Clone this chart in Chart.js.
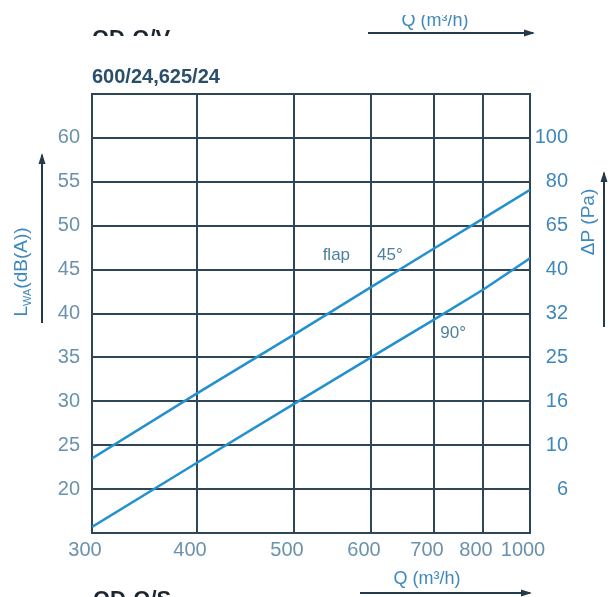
<!DOCTYPE html>
<html><head><meta charset="utf-8">
<script src="https://cdn.jsdelivr.net/npm/chart.js@4.4.0/dist/chart.umd.min.js"></script>
<style>html,body{margin:0;padding:0;background:#fff;}#wrap{width:610px;height:597px;position:relative;}</style>
</head><body><div id="wrap"><canvas id="c" width="610" height="597"></canvas></div>
<script>
// ---- data ----
const flowTicks = [300, 400, 500, 600, 700, 800, 1000];
const levelTicks = [20, 25, 30, 35, 40, 45, 50, 55, 60];
const pressureLabels = ['6', '10', '16', '25', '32', '40', '65', '80', '100'];
const flow = [300, 400, 500, 600, 700, 800, 1000];
const flap45 = [23.5, 30.9, 37.6, 43.0, 47.4, 50.8, 54.1];
const flap90 = [15.7, 23.0, 29.7, 35.0, 39.3, 42.7, 46.3];

// layout of the printed (non-uniform) flow grid, as fractions of the axis length
const gridFrac = [0, 0.2397, 0.4612, 0.6370, 0.7808, 0.8927, 1];

class PrintedFlowScale extends Chart.LinearScale {
  getPixelForValue(v) {
    if (v === undefined || v === null || isNaN(v)) return NaN;
    const t = flowTicks, f = gridFrac;
    let i = 0;
    while (i < t.length - 2 && v > t[i + 1]) i++;
    const frac = f[i] + (v - t[i]) / (t[i + 1] - t[i]) * (f[i + 1] - f[i]);
    return this.getPixelForDecimal(frac);
  }
  getValueForPixel(p) {
    const d = this.getDecimalForPixel(p);
    const t = flowTicks, f = gridFrac;
    let i = 0;
    while (i < f.length - 2 && d > f[i + 1]) i++;
    return t[i] + (d - f[i]) / (f[i + 1] - f[i]) * (t[i + 1] - t[i]);
  }
}
PrintedFlowScale.id = 'printedflow';
PrintedFlowScale.defaults = Chart.LinearScale.defaults;
Chart.register(PrintedFlowScale);

const GRID = '#2e4656';
const LINE = '#2390d0';
const TICKC = '#6a91ad';
const RTICKC = '#3f88bb';
const FONT = 'Liberation Sans, Arial, sans-serif';

function arrow(ctx, x1, y1, x2, y2) {
  ctx.save();
  ctx.strokeStyle = '#243a4a';
  ctx.fillStyle = '#243a4a';
  ctx.lineWidth = 2;
  ctx.beginPath(); ctx.moveTo(x1, y1); ctx.lineTo(x2, y2); ctx.stroke();
  const a = Math.atan2(y2 - y1, x2 - x1), L = 9, W = 3.5;
  ctx.beginPath();
  ctx.moveTo(x2 + Math.cos(a) * 2, y2 + Math.sin(a) * 2);
  ctx.lineTo(x2 - Math.cos(a) * L - Math.sin(a) * W, y2 - Math.sin(a) * L + Math.cos(a) * W);
  ctx.lineTo(x2 - Math.cos(a) * L + Math.sin(a) * W, y2 - Math.sin(a) * L - Math.cos(a) * W);
  ctx.closePath(); ctx.fill();
  ctx.restore();
}

const extras = {
  id: 'extras',
  afterDatasetsDraw(chart) {
    const ctx = chart.ctx, xs = chart.scales.x, ys = chart.scales.y;
    ctx.save();
    ctx.fillStyle = '#4f7f9e';
    ctx.font = '17px ' + FONT;
    ctx.textAlign = 'center'; ctx.textBaseline = 'middle';
    ctx.fillText('flap', xs.getPixelForValue(555), ys.getPixelForValue(46.6));
    ctx.fillText('45°', xs.getPixelForValue(630), ys.getPixelForValue(46.6));
    ctx.fillText('90°', xs.getPixelForValue(739), ys.getPixelForValue(37.8));
    ctx.restore();
  },
  afterDraw(chart) {
    const ctx = chart.ctx;
    ctx.save();
    // top partially hidden heading
    ctx.save();
    ctx.beginPath(); ctx.rect(0, 0, 610, 36); ctx.clip();
    ctx.fillStyle = '#1b2630';
    ctx.font = 'bold 22px ' + FONT;
    ctx.textAlign = 'left'; ctx.textBaseline = 'alphabetic';
    ctx.fillText('QD-Q/V', 92, 45);
    ctx.restore();
    // top flow label (cut)
    ctx.save();
    ctx.beginPath(); ctx.rect(0, 15, 610, 20); ctx.clip();
    ctx.fillStyle = RTICKC;
    ctx.font = '18px ' + FONT;
    ctx.textAlign = 'center'; ctx.textBaseline = 'alphabetic';
    ctx.fillText('Q (m³/h)', 435, 26);
    ctx.restore();
    arrow(ctx, 368, 33, 533, 33);
    // title
    ctx.fillStyle = '#2a4f6a';
    ctx.font = 'bold 20px ' + FONT;
    ctx.textAlign = 'left'; ctx.textBaseline = 'alphabetic';
    ctx.fillText('600/24,625/24', 92, 83);
    // bottom flow label
    ctx.fillStyle = RTICKC;
    ctx.font = '18px ' + FONT;
    ctx.textAlign = 'center';
    ctx.fillText('Q (m³/h)', 427, 584);
    arrow(ctx, 360, 593, 530, 593);
    // bottom partially hidden heading
    ctx.fillStyle = '#1b2630';
    ctx.font = 'bold 22px ' + FONT;
    ctx.textAlign = 'left';
    ctx.fillText('QD-Q/S', 93, 606);
    // left axis title (rotated)
    ctx.save();
    ctx.translate(22, 272);
    ctx.rotate(-Math.PI / 2);
    ctx.fillStyle = RTICKC;
    ctx.textBaseline = 'middle';
    const p1 = 'L', p3 = '(dB(A))';
    ctx.font = '19px ' + FONT; const w1 = ctx.measureText(p1).width;
    ctx.font = '11px ' + FONT; const w2 = ctx.measureText('WA').width;
    ctx.font = '19px ' + FONT; const w3 = ctx.measureText(p3).width;
    let x0 = -(w1 + w2 + w3) / 2;
    ctx.textAlign = 'left';
    ctx.fillText(p1, x0, 0);
    ctx.font = '11px ' + FONT; ctx.fillText('WA', x0 + w1, 6);
    ctx.font = '19px ' + FONT; ctx.fillText(p3, x0 + w1 + w2, 0);
    ctx.restore();
    arrow(ctx, 42, 323, 42, 155);
    // right axis title (rotated)
    ctx.save();
    ctx.translate(589, 222);
    ctx.rotate(-Math.PI / 2);
    ctx.fillStyle = RTICKC;
    ctx.textAlign = 'center'; ctx.textBaseline = 'middle';
    ctx.font = '19px ' + FONT;
    ctx.fillText('ΔP (Pa)', 0, 0);
    ctx.restore();
    arrow(ctx, 604, 327, 604, 173);
    ctx.restore();
  }
};

new Chart(document.getElementById('c'), {
  type: 'line',
  data: {
    datasets: [
      { label: '45°', data: flow.map((q, i) => ({ x: q, y: flap45[i] })), borderColor: LINE, borderWidth: 2.5, pointRadius: 0, fill: false, tension: 0, yAxisID: 'y' },
      { label: '90°', data: flow.map((q, i) => ({ x: q, y: flap90[i] })), borderColor: LINE, borderWidth: 2.5, pointRadius: 0, fill: false, tension: 0, yAxisID: 'y' }
    ]
  },
  options: {
    responsive: false,
    devicePixelRatio: 1,
    animation: false,
    layout: { padding: { top: 94, left: 0, right: 42, bottom: 0 } },
    plugins: { legend: { display: false }, tooltip: { enabled: false }, title: { display: false } },
    scales: {
      x: {
        type: 'printedflow', min: 300, max: 1000,
        afterBuildTicks: ax => { ax.ticks = flowTicks.map(v => ({ value: v })); },
        afterFit: s => { s.height = 64; },
        grid: { color: GRID, lineWidth: 2, drawTicks: false },
        border: { color: GRID, width: 2 },
        ticks: { autoSkip: false, maxRotation: 0, padding: 5, labelOffset: -7, color: TICKC, font: { family: FONT, size: 20 }, callback: v => String(v) }
      },
      y: {
        position: 'left', min: 15, max: 65,
        afterBuildTicks: ax => { ax.ticks = [15, ...levelTicks, 65].map(v => ({ value: v })); },
        afterFit: s => { s.width = 92; },
        grid: { color: GRID, lineWidth: 2, drawTicks: false },
        border: { color: GRID, width: 2 },
        ticks: { padding: 12, color: TICKC, font: { family: FONT, size: 20 }, callback: v => levelTicks.includes(v) ? String(v) : '' }
      },
      y2: {
        position: 'right', min: 15, max: 65,
        afterBuildTicks: ax => { ax.ticks = [15, ...levelTicks, 65].map(v => ({ value: v })); },
        afterFit: s => { s.width = 38; },
        grid: { display: false, drawTicks: false },
        border: { color: GRID, width: 2 },
        ticks: { padding: 5, crossAlign: 'far', color: RTICKC, font: { family: FONT, size: 20 }, callback: v => { const i = levelTicks.indexOf(v); return i >= 0 ? pressureLabels[i] : ''; } }
      }
    }
  },
  plugins: [extras]
});
</script>
</body></html>
